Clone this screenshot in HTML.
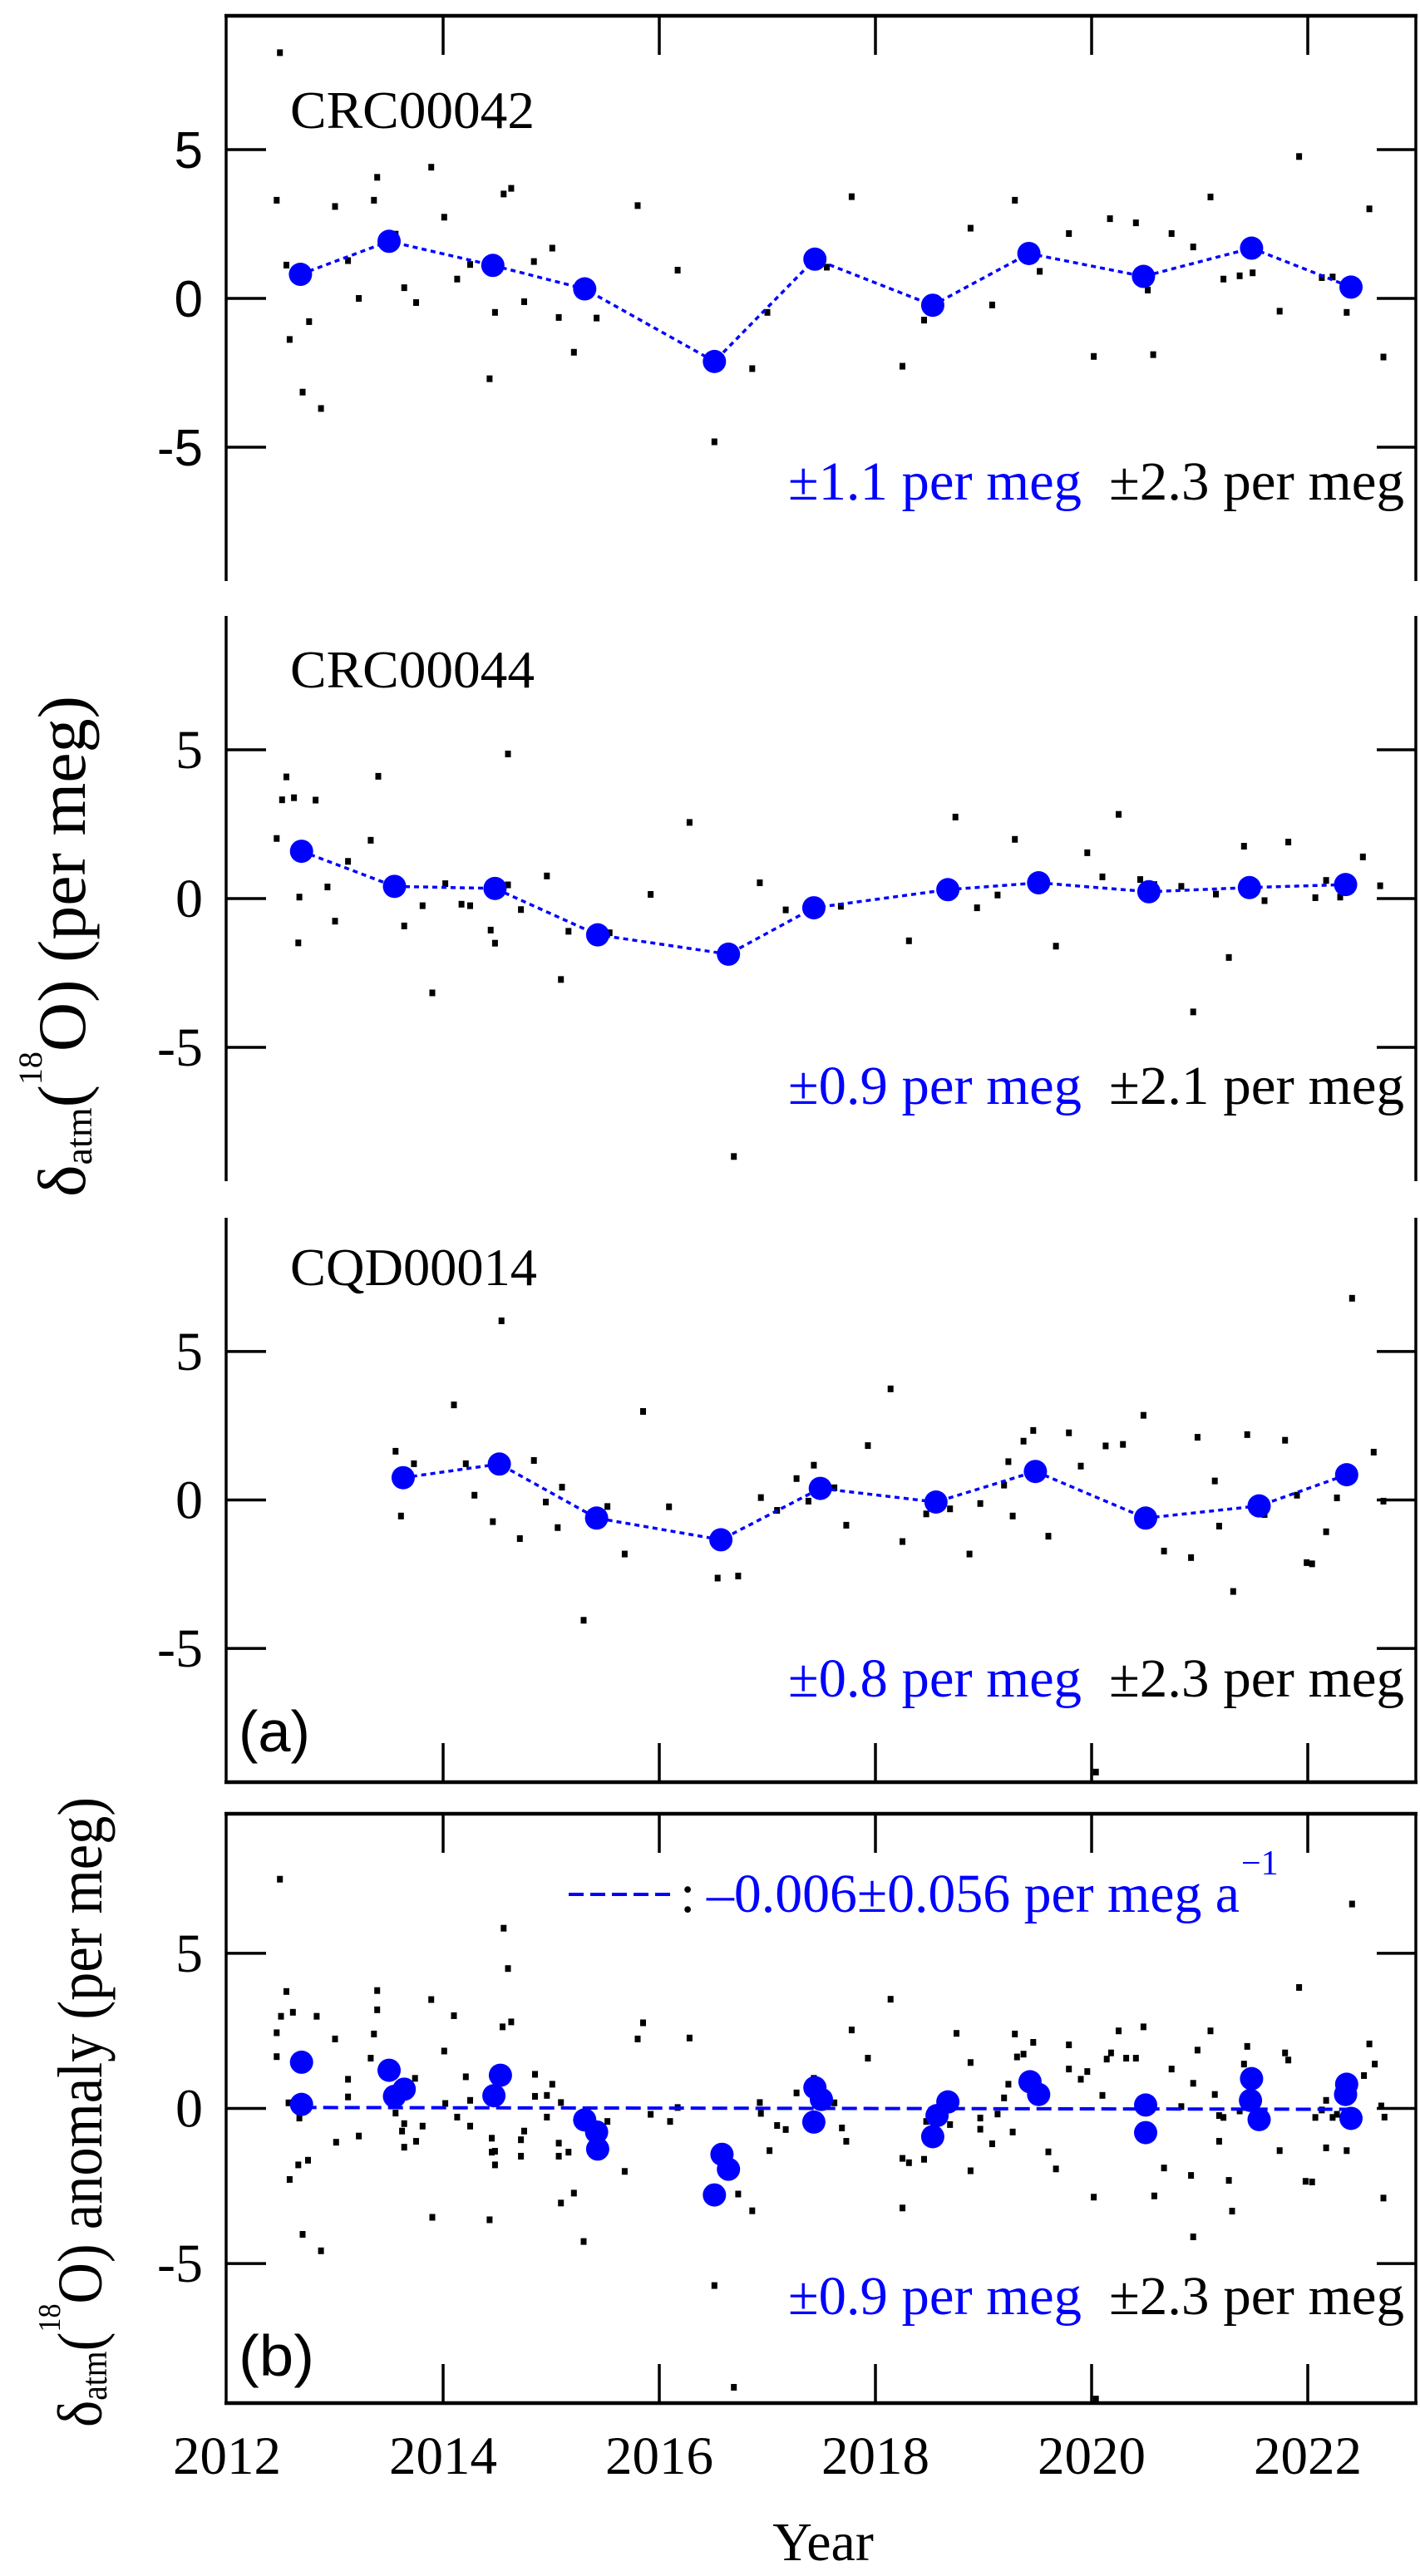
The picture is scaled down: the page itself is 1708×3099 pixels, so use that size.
<!DOCTYPE html>
<html><head><meta charset="utf-8"><title>δatm(18O) time series</title>
<style>
html,body{margin:0;padding:0;background:#fff;}
svg{display:block;}
.serif{font-family:"Liberation Serif",serif;}
.sans{font-family:"Liberation Sans",sans-serif;}
</style></head>
<body>
<svg id="chart" xmlns="http://www.w3.org/2000/svg" width="1708" height="3099" viewBox="0 0 1708 3099">
  <g id="axes"></g>
  <g id="marks"></g>

  <g class="serif">
  <text class="serif" x="349" y="154" font-size="64" textLength="294" lengthAdjust="spacingAndGlyphs">CRC00042</text>
  <text class="serif" x="349" y="827" font-size="64" textLength="294" lengthAdjust="spacingAndGlyphs">CRC00044</text>
  <text class="serif" x="349" y="1546" font-size="64" textLength="297" lengthAdjust="spacingAndGlyphs">CQD00014</text>

  <text class="serif" x="948" y="601" font-size="66" fill="#0000ff" textLength="353" lengthAdjust="spacingAndGlyphs">±1.1 per meg</text>
  <text class="serif" x="1334" y="601" font-size="66" textLength="355" lengthAdjust="spacingAndGlyphs">±2.3 per meg</text>
  <text class="serif" x="948" y="1328" font-size="66" fill="#0000ff" textLength="353" lengthAdjust="spacingAndGlyphs">±0.9 per meg</text>
  <text class="serif" x="1334" y="1328" font-size="66" textLength="355" lengthAdjust="spacingAndGlyphs">±2.1 per meg</text>
  <text class="serif" x="948" y="2041" font-size="66" fill="#0000ff" textLength="353" lengthAdjust="spacingAndGlyphs">±0.8 per meg</text>
  <text class="serif" x="1334" y="2041" font-size="66" textLength="355" lengthAdjust="spacingAndGlyphs">±2.3 per meg</text>
  <text class="serif" x="948" y="2784" font-size="66" fill="#0000ff" textLength="353" lengthAdjust="spacingAndGlyphs">±0.9 per meg</text>
  <text class="serif" x="1334" y="2784" font-size="66" textLength="355" lengthAdjust="spacingAndGlyphs">±2.3 per meg</text>

  <g>
    <line x1="684" y1="2279" x2="808" y2="2279" stroke="#0000ff" stroke-width="4" stroke-dasharray="18 8"/>
    <text class="serif" x="818" y="2300" font-size="66">:</text>
    <text class="serif" x="850" y="2300" font-size="66" fill="#0000ff" textLength="641" lengthAdjust="spacingAndGlyphs">–0.006±0.056 per meg a</text>
    <text class="serif" x="1493" y="2255" font-size="42" fill="#0000ff">−1</text>
  </g>

  <text class="serif" transform="translate(102,1440) rotate(-90)" font-size="82">δ<tspan font-size="46" dy="8">atm</tspan><tspan dy="-8">(</tspan><tspan font-size="40" dy="-52">18</tspan><tspan dy="52">O)  (per meg)</tspan></text>
  <text class="serif" transform="translate(122,2920) rotate(-90) scale(0.9,1)" font-size="76">δ<tspan font-size="44" dy="6">atm</tspan><tspan dy="-6">(</tspan><tspan font-size="38" dy="-50">18</tspan><tspan dy="50">O) anomaly  (per meg)</tspan></text>

  <text class="serif" x="990" y="3080" font-size="66" text-anchor="middle">Year</text>
  </g>

  <g class="sans">
  <text class="sans" x="287" y="2107" font-size="70" textLength="86" lengthAdjust="spacingAndGlyphs">(a)</text>
  <text class="sans" x="287" y="2858" font-size="70" textLength="91" lengthAdjust="spacingAndGlyphs">(b)</text>
  </g>
</svg>
<script>
// ---------- data ----------
const xTickYears = [2012, 2014, 2016, 2018, 2020, 2022];
const yTickValues = [-5, 0, 5];
const yTickLabels = ["-5", "0", "5"];

// Panel 1: CRC00042
const p1MeanYear = [2012.68,2013.50,2014.46,2015.31,2016.51,2017.44,2018.53,2019.42,2020.48,2021.48,2022.40];
const p1MeanValue = [0.81,1.92,1.11,0.32,-2.12,1.32,-0.23,1.51,0.74,1.69,0.38];
const p1PointYear = [2012.49,2012.46,2012.55,2012.58,2012.70,2012.76,2012.87,2013.00,2013.12,2013.22,2013.36,2013.39,2013.56,2013.64,2013.75,2013.89,2014.01,2014.13,2014.25,2014.43,2014.48,2014.56,2014.63,2014.75,2014.84,2015.01,2015.07,2015.21,2015.42,2015.80,2016.17,2016.51,2016.86,2017.00,2017.55,2017.78,2018.25,2018.45,2018.88,2019.08,2019.29,2019.52,2019.79,2020.02,2020.17,2020.41,2020.52,2020.57,2020.74,2020.94,2021.10,2021.22,2021.37,2021.49,2021.74,2021.92,2022.13,2022.23,2022.36,2022.57,2022.70];
const p1PointValue = [8.26,3.30,1.12,-1.38,-3.15,-0.78,-3.70,3.09,1.27,0,3.30,4.07,2.16,0.36,-0.14,4.41,2.73,0.65,1.14,-2.70,-0.47,3.51,3.70,-0.11,1.24,1.69,-0.64,-1.81,-0.66,3.12,0.95,-4.82,-2.36,-0.47,1.05,3.42,-2.28,-0.73,2.36,-0.22,3.30,0.91,2.18,-1.95,2.68,2.54,0.28,-1.89,2.18,1.73,3.41,0.65,0.76,0.86,-0.43,4.77,0.70,0.72,-0.47,3.01,-1.97];

// Panel 2: CRC00044
const p2MeanYear = [2012.69,2013.55,2014.48,2015.43,2016.64,2017.43,2018.67,2019.51,2020.53,2021.46,2022.35];
const p2MeanValue = [1.59,0.41,0.34,-1.22,-1.87,-0.31,0.30,0.53,0.23,0.37,0.47];
const p2PointYear = [2012.46,2012.55,2012.51,2012.62,2012.82,2012.67,2012.66,2012.93,2013.00,2013.12,2013.33,2013.40,2013.64,2013.81,2013.90,2014.02,2014.17,2014.25,2014.44,2014.48,2014.60,2014.60,2014.72,2014.96,2015.09,2015.16,2015.54,2015.92,2016.28,2016.69,2016.93,2017.17,2017.68,2018.31,2018.74,2018.94,2019.13,2019.29,2019.67,2019.96,2020.10,2020.25,2020.45,2020.58,2020.83,2020.94,2021.15,2021.27,2021.41,2021.60,2021.82,2022.07,2022.17,2022.30,2022.51,2022.67];
const p2PointValue = [2.02,4.09,3.32,3.39,3.31,0.05,-1.49,0.39,-0.76,1.25,1.96,4.11,-0.92,-0.24,-3.17,0.50,-0.19,-0.24,-1.06,-1.50,4.86,0.46,-0.37,0.76,-2.72,-1.10,-1.15,0.14,2.56,-8.67,0.53,-0.38,-0.26,-1.42,2.74,-0.31,0.12,1.99,-1.60,1.54,0.73,2.83,0.64,0.47,0.41,-3.81,0.15,-1.98,1.76,-0.07,1.90,0.03,0.61,0.05,1.40,0.43];

// Panel 3: CQD00014
const p3MeanYear = [2013.63,2014.52,2015.42,2016.57,2017.49,2018.56,2019.48,2020.50,2021.55,2022.36];
const p3MeanValue = [0.75,1.21,-0.61,-1.34,0.39,-0.07,0.96,-0.61,-0.20,0.85];
const p3PointYear = [2013.56,2013.61,2013.73,2014.10,2014.21,2014.29,2014.46,2014.54,2014.71,2014.84,2014.95,2015.06,2015.10,2015.30,2015.52,2015.68,2015.85,2016.09,2016.54,2016.73,2016.94,2017.09,2017.27,2017.38,2017.43,2017.62,2017.73,2017.93,2018.14,2018.25,2018.47,2018.69,2018.87,2018.97,2019.19,2019.23,2019.27,2019.37,2019.46,2019.60,2019.79,2019.90,2020.04,2020.13,2020.29,2020.48,2020.67,2020.92,2020.98,2021.14,2021.18,2021.31,2021.44,2021.60,2021.79,2021.90,2021.99,2022.04,2022.17,2022.27,2022.41,2022.61,2022.70];
const p3PointValue = [1.64,-0.54,1.22,3.20,1.22,0.16,-0.73,6.03,-1.30,1.33,-0.07,-0.93,0.43,-4.05,-0.22,-1.82,2.98,-0.23,-2.63,-2.56,0.08,-0.35,0.72,-0.04,1.17,0.41,-0.85,1.83,3.74,-1.40,-0.47,-0.30,-1.82,-0.12,0.50,1.29,-0.54,1.98,2.34,-1.22,2.26,1.14,-9.16,1.82,1.87,2.85,-1.72,-1.94,2.11,0.64,-0.88,-3.08,2.20,-0.49,2.01,0.16,-2.11,-2.15,-1.07,0.07,6.79,1.61,-0.04];

// Panel 4: anomaly (all cores)
const p4MeanYear = [2012.69,2012.69,2013.50,2013.55,2013.64,2014.47,2014.53,2015.31,2015.42,2015.43,2016.51,2016.58,2016.64,2017.43,2017.44,2017.50,2018.53,2018.57,2018.67,2019.43,2019.51,2020.50,2020.50,2021.48,2021.47,2021.55,2022.35,2022.36,2022.40];
const p4MeanValue = [1.49,0.13,1.23,0.39,0.62,0.41,1.07,-0.37,-0.76,-1.31,-2.79,-1.48,-1.96,-0.44,0.67,0.29,-0.91,-0.23,0.21,0.86,0.45,0.11,-0.78,0.96,0.26,-0.36,0.45,0.78,-0.32];
const p4PointYear = [2012.49,2012.55,2012.46,2012.46,2012.50,2012.61,2012.57,2012.58,2012.67,2012.66,2012.75,2012.70,2012.83,2012.87,2013.00,2013.12,2013.12,2013.01,2013.22,2013.36,2013.39,2013.39,2013.33,2013.56,2013.62,2013.64,2013.64,2013.75,2013.74,2013.81,2013.89,2013.90,2014.01,2014.02,2014.10,2014.13,2014.21,2014.25,2014.25,2014.43,2014.45,2014.45,2014.48,2014.48,2014.55,2014.56,2014.60,2014.63,2014.72,2014.75,2014.72,2014.85,2014.85,2014.96,2014.96,2015.01,2015.07,2015.07,2015.09,2015.16,2015.09,2015.21,2015.30,2015.52,2015.68,2015.80,2015.85,2015.92,2016.10,2016.17,2016.28,2016.51,2016.69,2016.73,2016.86,2016.93,2016.94,2017.02,2017.09,2017.17,2017.27,2017.38,2017.43,2017.62,2017.69,2017.73,2017.78,2017.93,2018.14,2018.25,2018.25,2018.31,2018.45,2018.47,2018.69,2018.75,2018.88,2018.88,2018.97,2018.97,2019.08,2019.13,2019.19,2019.23,2019.27,2019.29,2019.31,2019.37,2019.46,2019.60,2019.67,2019.79,2019.79,2019.90,2019.96,2020.02,2020.04,2020.10,2020.14,2020.18,2020.25,2020.32,2020.41,2020.48,2020.53,2020.58,2020.67,2020.74,2020.83,2020.92,2020.94,2020.98,2020.94,2021.10,2021.14,2021.18,2021.18,2021.22,2021.27,2021.30,2021.37,2021.41,2021.44,2021.60,2021.74,2021.79,2021.82,2021.92,2021.98,2022.04,2022.07,2022.13,2022.17,2022.17,2022.23,2022.27,2022.36,2022.41,2022.52,2022.57,2022.62,2022.68,2022.71,2022.70];
const p4PointValue = [7.39,3.77,2.44,1.67,2.97,3.10,0.18,-2.29,-0.31,-1.82,-1.67,-4.06,2.97,-4.59,2.24,0.94,0.37,-1.09,-0.89,2.40,3.18,3.80,1.62,-0.15,-0.73,-0.49,-1.25,-1.06,0.97,-0.57,3.51,-3.51,1.85,0.16,2.99,-0.28,1.02,-0.57,0.26,-3.59,-0.96,-1.41,-1.82,-1.38,2.63,5.81,4.51,2.79,-1.54,-0.73,-1.01,1.10,0.39,-0.28,0.42,0.78,-1.12,-1.54,0.19,-1.41,-3.05,-2.73,-4.29,-0.42,-2.03,2.24,2.76,-0.19,-0.42,0.03,2.27,-5.71,-8.99,-2.76,-3.30,0.19,-0.16,-1.36,-0.55,-0.68,0.50,-0.41,0.97,0.18,-0.63,-1.06,2.53,1.62,3.52,-3.21,-1.61,-1.75,-1.64,-0.42,-0.52,2.42,1.48,-2.01,-0.67,-0.31,-1.14,-0.18,0.34,0.78,-0.76,2.40,1.66,1.75,2.13,-1.40,-1.95,2.05,1.27,0.94,1.19,-2.86,-9.37,0.42,1.59,1.79,2.50,1.62,1.62,2.63,0.03,-2.82,-1.92,1.27,0.06,-2.16,-4.14,1.88,0.81,2.50,0.45,-1.06,-0.23,-0.29,-2.32,-3.31,-0.08,1.43,2.00,-0.52,-1.36,1.79,1.56,3.90,-2.35,-2.37,-0.29,-0.05,-1.27,0.26,-0.29,-0.19,-1.36,6.59,1.06,2.08,1.43,0.08,-0.28,-2.89];

// Trend line (panel 4)
const trendYears = [2012.69, 2022.40];
const trendIntercept = 0.03;   // value at 2012.69
const trendSlope = -0.006;     // per meg per year

// ---------- layout ----------
const NS = "http://www.w3.org/2000/svg";
const X0 = 273, X1 = 1703, YEAR0 = 2012, YEAR1 = 2023;
function xScale(yr) { return X0 + (yr - YEAR0) / (YEAR1 - YEAR0) * (X1 - X0); }
const panels = [
  {top: 19,   bottom: 699,  topLine: true,  bottomLine: false, tickClass: "sans"},
  {top: 741,  bottom: 1421, topLine: false, bottomLine: false, tickClass: "serif"},
  {top: 1465, bottom: 2144, topLine: false, bottomLine: true,  tickClass: "serif"},
  {top: 2182, bottom: 2891, topLine: true,  bottomLine: true,  tickClass: "serif"}
];
function yScale(p, v) { const mid = (p.top + p.bottom) / 2; return mid - v * (p.bottom - p.top) / 19; }

const axes = document.getElementById("axes");
const marks = document.getElementById("marks");
function mk(tag, attrs, parent) {
  const e = document.createElementNS(NS, tag);
  for (const k in attrs) e.setAttribute(k, attrs[k]);
  parent.appendChild(e);
  return e;
}
const TL = 47, SW = 3.5;

panels.forEach((p, i) => {
  const n = i + 1;
  let l = mk("line", {x1: X0 - 1, y1: p.top, x2: X0 - 1, y2: p.bottom, stroke: "#000", "stroke-width": SW}, axes);
  
  
  l = mk("line", {x1: X1, y1: p.top, x2: X1, y2: p.bottom, stroke: "#000", "stroke-width": SW}, axes);
  
  
  if (p.topLine) {
    l = mk("line", {x1: X0 - 3, y1: p.top, x2: X1 + 2, y2: p.top, stroke: "#000", "stroke-width": SW + 1}, axes);
    
    
    xTickYears.slice(1).forEach(yr => {
      const t = mk("line", {x1: xScale(yr), y1: p.top, x2: xScale(yr), y2: p.top + TL, stroke: "#000", "stroke-width": SW}, axes);
      
      
    });
  }
  if (p.bottomLine) {
    l = mk("line", {x1: X0 - 3, y1: p.bottom, x2: X1 + 2, y2: p.bottom, stroke: "#000", "stroke-width": SW + 1}, axes);
    
    
    xTickYears.slice(1).forEach(yr => {
      const t = mk("line", {x1: xScale(yr), y1: p.bottom, x2: xScale(yr), y2: p.bottom - TL, stroke: "#000", "stroke-width": SW}, axes);
      
      
    });
  }
  yTickValues.forEach((v, k) => {
    const y = yScale(p, v);
    let t = mk("line", {x1: X0, y1: y, x2: X0 + TL, y2: y, stroke: "#000", "stroke-width": SW}, axes);
    
    
    t = mk("line", {x1: X1 - TL, y1: y, x2: X1, y2: y, stroke: "#000", "stroke-width": SW}, axes);
    
    
    const tx = mk("text", {x: 244, y: y + 22, "text-anchor": "end", "font-size": i === 0 ? 62 : 66, class: p.tickClass}, axes);
    tx.textContent = yTickLabels[k];
    
    
  });
});

xTickYears.forEach(yr => {
  const tx = mk("text", {x: xScale(yr), y: 2976, "text-anchor": "middle", "font-size": 65, class: "serif"}, axes);
  tx.textContent = String(yr);
  
  
});

function drawPoints(p, years, vals, n) {
  const m = Math.min(years.length, vals.length);
  for (let i = 0; i < m; i++) {
    const r = mk("rect", {x: xScale(years[i]) - 3.5, y: yScale(p, vals[i]) - 4, width: 7, height: 8, fill: "#000"}, marks);
    
    
  }
}
function drawMeans(p, years, vals, n, connect) {
  const m = Math.min(years.length, vals.length);
  if (connect) {
    const pts = [];
    for (let i = 0; i < m; i++) pts.push(xScale(years[i]) + "," + yScale(p, vals[i]));
    const pl = mk("polyline", {points: pts.join(" "), fill: "none", stroke: "#0000ff", "stroke-width": 3.5, "stroke-dasharray": "6 5"}, marks);
    
    
  }
  for (let i = 0; i < m; i++) {
    const c = mk("ellipse", {cx: xScale(years[i]), cy: yScale(p, vals[i]), rx: 14, ry: 14, fill: "#0000ff"}, marks);
    
    
  }
}

drawPoints(panels[0], p1PointYear, p1PointValue, 1);
drawMeans(panels[0], p1MeanYear, p1MeanValue, 1, true);
drawPoints(panels[1], p2PointYear, p2PointValue, 2);
drawMeans(panels[1], p2MeanYear, p2MeanValue, 2, true);
drawPoints(panels[2], p3PointYear, p3PointValue, 3);
drawMeans(panels[2], p3MeanYear, p3MeanValue, 3, true);
drawPoints(panels[3], p4PointYear, p4PointValue, 4);
drawMeans(panels[3], p4MeanYear, p4MeanValue, 4, false);

const tv0 = trendIntercept, tv1 = trendIntercept + trendSlope * (trendYears[1] - trendYears[0]);
const tr = mk("line", {x1: xScale(trendYears[0]), y1: yScale(panels[3], tv0), x2: xScale(trendYears[1]), y2: yScale(panels[3], tv1), stroke: "#0000ff", "stroke-width": 4, "stroke-dasharray": "18 8"}, marks);


</script>
</body></html>
